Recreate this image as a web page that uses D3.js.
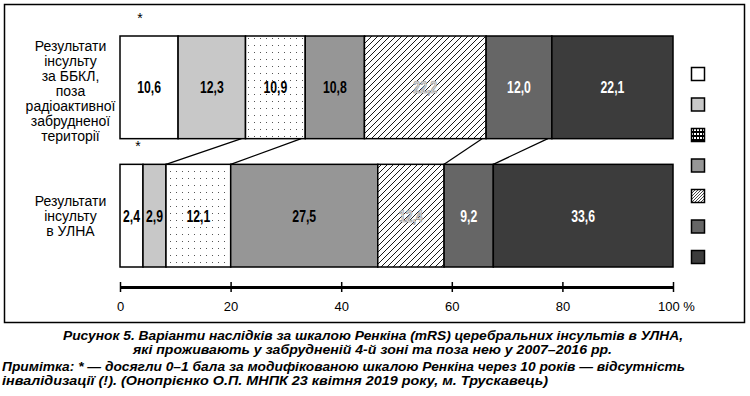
<!DOCTYPE html>
<html>
<head>
<meta charset="utf-8">
<script src="https://cdn.jsdelivr.net/npm/d3@7"></script>
<style>
  body { margin: 0; background: #fff; }
  svg { display: block; }
</style>
</head>
<body>
<div id="chart"></div>
<script>
// data
var categories = ["ББКЛ", "УЛНА"];
var categoryLines = [
    ["Результати", "інсульту", "за ББКЛ,", "поза", "радіоактивної", "забрудненої", "території"],
    ["Результати", "інсульту", "в УЛНА"]
];
var grades = ["0", "1", "2", "3", "4", "5", "6"];
var topValues = [10.6, 12.3, 10.9, 10.8, 22.2, 12.0, 22.1];
var bottomValues = [2.4, 2.9, 12.1, 27.5, 12.4, 9.2, 33.6];
var tickValues = [0, 20, 40, 60, 80, 100];
var tickLabels = ["0", "20", "40", "60", "80", "100 %"];
// segments joined by the connecting lines (index of boundary after segment)
var joinedBounds = [2, 3, 5, 6];
var captionLines = [
    "Рисунок 5. Варіанти наслідків за шкалою Ренкіна (mRS) церебральних інсультів в УЛНА,",
    "які проживають у забрудненій 4-й зоні та поза нею у 2007–2016 рр."
];
var noteLines = [
    "Примітка: * — досягли 0–1 бала за модифікованою шкалою Ренкіна через 10 років — відсутність",
    "інвалідизації (!). (Онопрієнко О.П. МНПК 23 квітня 2019 року, м. Трускавець)"
];

const width = 750;
const height = 396;
// small segments get a minimum drawn width so their labels fit, like the original
const minShare = 4.3;
const fills = ["#ffffff", "#c8c8c8", "url(#dots)", "#969696", "url(#hatch)", "#666666", "#3c3c3c"];
const legendFills = ["#ffffff", "#c8c8c8", "url(#checks)", "#969696", "url(#hatchDense)", "#666666", "#3c3c3c"];
const labelColors = ["#000", "#000", "#000", "#000", "#e4e4e4", "#fff", "#fff"];

function segments(values) {
    var shown = values.map((v) => Math.max(v, minShare));
    var total = d3.sum(shown);
    var ends = d3.cumsum(shown).map((v) => v / total * 100);
    return values.map((v, i) => ({
        grade: grades[i], value: v,
        x0: i == 0 ? 0 : ends[i - 1], x1: ends[i]
    }));
}

const rows = [segments(topValues), segments(bottomValues)];

const xScale = d3.scaleLinear()
    .domain([0, 100])
    .range([120, 673]);

const yScale = d3.scaleBand()
    .domain(categories)
    .range([36, 267])
    .paddingInner(0.2)
    .paddingOuter(0);

let svg = d3.select('#chart')
    .append('svg')
    .attr('width', width)
    .attr('height', height)
    .style('font-family', 'Arial, "Liberation Sans", sans-serif');

// patterns
let defs = svg.append('defs');
let dots = defs.append('pattern')
    .attr('id', 'dots')
    .attr('patternUnits', 'userSpaceOnUse')
    .attr('width', 6).attr('height', 7);
dots.append('rect').attr('width', 6).attr('height', 7).attr('fill', '#fff');
dots.append('rect').attr('x', 2).attr('y', 3).attr('width', 1).attr('height', 1).attr('fill', '#555');

let hatch = defs.append('pattern')
    .attr('id', 'hatch')
    .attr('patternUnits', 'userSpaceOnUse')
    .attr('width', 6).attr('height', 6);
hatch.append('rect').attr('width', 6).attr('height', 6).attr('fill', '#fff');
hatch.append('path')
    .attr('d', 'M0,6 L6,0 M-1,1 L1,-1 M5,7 L7,5')
    .attr('stroke', '#000').attr('stroke-width', 0.9);

let hatchDense = defs.append('pattern')
    .attr('id', 'hatchDense')
    .attr('patternUnits', 'userSpaceOnUse')
    .attr('width', 3).attr('height', 3);
hatchDense.append('rect').attr('width', 3).attr('height', 3).attr('fill', '#fff');
hatchDense.append('path')
    .attr('d', 'M0,3 L3,0 M-1,1 L1,-1 M2,4 L4,2')
    .attr('stroke', '#333').attr('stroke-width', 0.9);

let checks = defs.append('pattern')
    .attr('id', 'checks')
    .attr('patternUnits', 'userSpaceOnUse')
    .attr('width', 3).attr('height', 4);
checks.append('rect').attr('width', 3).attr('height', 4).attr('fill', '#000');
checks.append('rect').attr('x', 1).attr('y', 1).attr('width', 2).attr('height', 2).attr('fill', '#fff');

// frame
svg.append('rect')
    .attr('x', 4.5).attr('y', 4.5)
    .attr('width', 740).attr('height', 318)
    .attr('fill', 'none')
    .attr('stroke', '#000')
    .attr('stroke-width', 1.5);

// connecting lines between the two bars
let topBottom = yScale(categories[0]) + yScale.bandwidth();
let bottomTop = yScale(categories[1]);
svg.selectAll('.join')
    .data(joinedBounds)
    .enter()
    .append('line')
    .attr('class', 'join')
    .attr('x1', (b) => xScale(rows[0][b - 1].x1) - 4)
    .attr('y1', topBottom)
    .attr('x2', (b) => xScale(rows[1][b - 1].x1))
    .attr('y2', bottomTop)
    .attr('stroke', '#000')
    .attr('stroke-width', 1.2);

// bars
rows.forEach(function(row, r) {
    let g = svg.append('g');
    let y = yScale(categories[r]);
    g.selectAll('rect')
        .data(row)
        .enter()
        .append('rect')
        .attr('x', (d) => xScale(d.x0))
        .attr('y', y)
        .attr('width', (d) => xScale(d.x1) - xScale(d.x0))
        .attr('height', yScale.bandwidth())
        .attr('fill', (d, i) => fills[i])
        .attr('stroke', '#000')
        .attr('stroke-width', 1.5);

    // value labels, squeezed horizontally (narrow bold face)
    g.selectAll('text')
        .data(row)
        .enter()
        .append('text')
        .attr('transform', (d) => `translate(${(xScale(d.x0) + xScale(d.x1)) / 2},${y + yScale.bandwidth() / 2 + 6}) scale(0.72,1)`)
        .attr('text-anchor', 'middle')
        .style('font-weight', 'bold')
        .style('font-size', '17px')
        .attr('fill', (d, i) => labelColors[i])
        .attr('stroke', (d, i) => i == 4 ? '#8a8a8a' : 'none')
        .attr('stroke-width', 0.7)
        .text((d) => d3.format('.1f')(d.value).replace('.', ','));

    // category label
    let lines = categoryLines[r];
    let mid = y + yScale.bandwidth() / 2 + (r == 0 ? 8.7 : 5);
    let step = 15;
    svg.append('text')
        .attr('text-anchor', 'middle')
        .style('font-size', '14px')
        .selectAll('tspan')
        .data(lines)
        .enter()
        .append('tspan')
        .attr('x', 70.5)
        .attr('y', (d, i) => mid + (i - (lines.length - 1) / 2) * step)
        .text((d) => d);

    // asterisk above each bar
    svg.append('text')
        .attr('x', r == 0 ? 140 : 138)
        .attr('y', y - 13)
        .attr('text-anchor', 'middle')
        .style('font-size', '14px')
        .text('*');
});

// axis
let axis = svg.append('g')
    .attr('transform', 'translate(0,287)')
    .call(d3.axisBottom(xScale)
        .tickValues(tickValues)
        .tickSize(0)
        .tickFormat((d, i) => tickLabels[i]));
axis.select('.domain')
    .attr('stroke', '#000')
    .attr('stroke-width', 3);
axis.selectAll('.tick line')
    .attr('y1', -5).attr('y2', 5)
    .attr('stroke', '#000')
    .attr('stroke-width', 1.5);
axis.selectAll('.tick text')
    .attr('y', 24).attr('dy', 0)
    .attr('dx', (d) => d == 100 ? 3 : 0)
    .style('font-family', 'Arial, "Liberation Sans", sans-serif')
    .style('font-size', '13px')
    .attr('fill', '#000');

// legend (squares only)
svg.selectAll('.legend')
    .data(grades)
    .enter()
    .append('rect')
    .attr('class', 'legend')
    .attr('x', 691.5)
    .attr('y', (d, i) => 67.5 + i * 30.5)
    .attr('width', 13)
    .attr('height', 13)
    .attr('fill', (d, i) => legendFills[i])
    .attr('stroke', '#000')
    .attr('stroke-width', 1.5);

// caption and note
let capStyle = function(sel) {
    sel.style('font-family', 'Arial, "Liberation Sans", sans-serif')
        .style('font-weight', 'bold')
        .style('font-style', 'italic')
        .style('font-size', '13px')
        .attr('lengthAdjust', 'spacingAndGlyphs');
};
const capX = [63, 133];
const capW = [620, 479];
captionLines.forEach(function(t, i) {
    svg.append('text')
        .attr('x', capX[i]).attr('y', 340 + i * 14)
        .attr('textLength', capW[i])
        .call(capStyle)
        .text(t);
});
const noteW = [683, 546];
noteLines.forEach(function(t, i) {
    svg.append('text')
        .attr('x', 2).attr('y', 371 + i * 13.5)
        .attr('textLength', noteW[i])
        .call(capStyle)
        .text(t);
});
</script>
</body>
</html>
